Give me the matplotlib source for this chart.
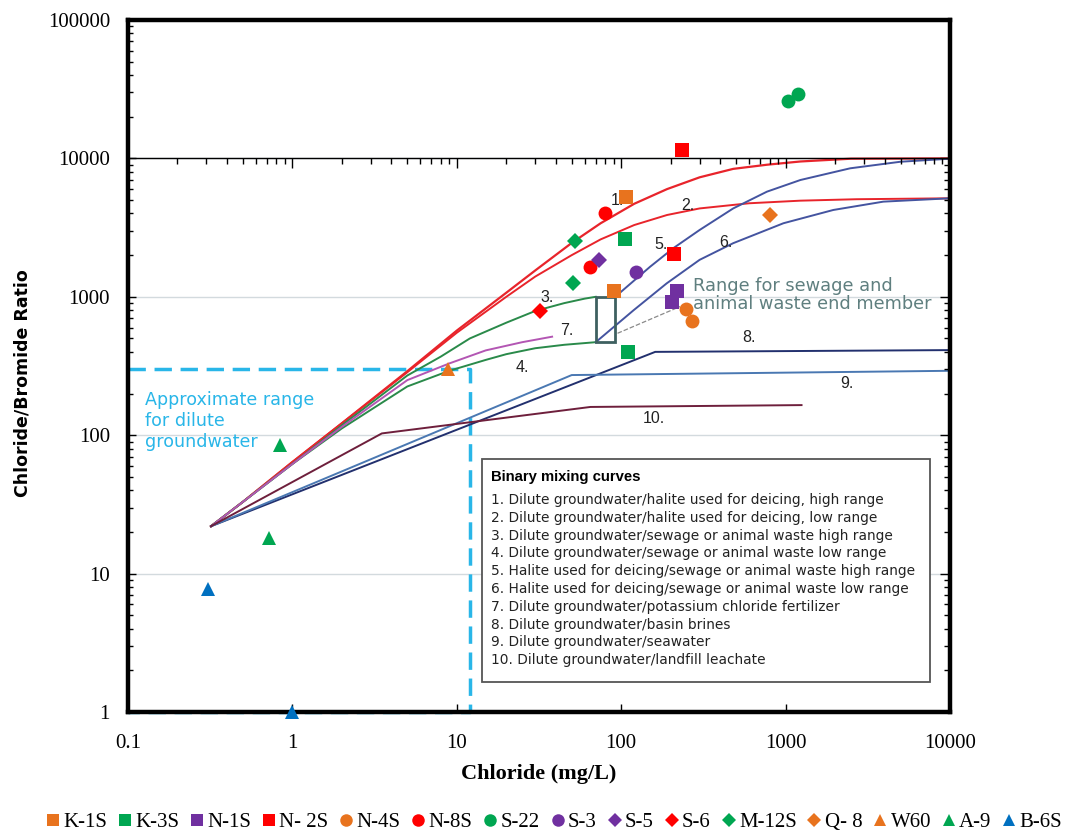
import matplotlib
matplotlib.use('Agg')
import matplotlib.pyplot as plt
import matplotlib.ticker as mticker
from matplotlib.patches import Rectangle
from matplotlib.lines import Line2D

# -----------------------------------------
# Binary mixing curves (chloride mg/L, Cl/Br ratio)
c1_x = [0.32, 0.5, 1, 2, 5, 10, 20, 30, 50, 75, 120, 190, 300, 480, 770, 1230, 2500, 10000]
c1_y = [22, 33, 64, 122, 290, 570, 1070, 1550, 2450, 3400, 4700, 6000, 7300, 8400, 9000, 9500, 9950, 10000]
c2_x = [0.32, 0.5, 1, 2, 5, 10, 20, 30, 50, 75, 120, 190, 300, 600, 1230, 2700, 10000]
c2_y = [22, 33, 64, 122, 285, 550, 1000, 1400, 2000, 2600, 3300, 3900, 4350, 4740, 4950, 5070, 5150]
c3_x = [0.32, 0.5, 1, 2, 5, 8, 12, 20, 30, 45, 60, 70]
c3_y = [22, 33, 62, 118, 270, 370, 500, 650, 790, 900, 970, 1000]
c4_x = [0.32, 0.5, 1, 2, 5, 9, 15, 20, 30, 45, 70]
c4_y = [22, 33, 62, 112, 225, 292, 350, 385, 425, 450, 470]
c5_x = [92, 150, 208, 300, 480, 770, 1230, 2470, 5000, 10000]
c5_y = [1000, 1650, 2250, 3040, 4350, 5750, 6980, 8480, 9460, 9950]
c6_x = [70, 119, 189, 300, 480, 970, 1950, 3930, 10000]
c6_y = [470, 800, 1250, 1850, 2440, 3400, 4240, 4870, 5150]
c7_x = [0.32, 0.5, 1, 2, 5, 9, 15, 25, 38]
c7_y = [22, 33, 62, 115, 250, 330, 410, 470, 515]
c8_x = [0.32, 161, 10000]
c8_y = [22, 400, 412]
c9_x = [0.32, 50, 10000]
c9_y = [22, 272, 292]
c10_x = [0.32, 3.5, 65, 1250]
c10_y = [22, 103, 160, 165]

# Sample wells
wells = ['K-1S', 'K-3S', 'N-1S', 'N- 2S', 'N-4S', 'N-8S', 'S-22', 'S-3',
         'S-5', 'S-6', 'M-12S', 'Q- 8', 'W60', 'A-9', 'B-6S']
well_cl = [[107, 90], [105, 110], [220, 205], [235, 210], [248, 270], [80, 65],
           [1040, 1190], [123], [73], [32], [52, 51], [800], [8.9], [0.84, 0.72], [0.305, 1.0]]
well_ratio = [[5300, 1100], [2600, 400], [1100, 920], [11500, 2050], [820, 670], [4000, 1630],
              [26000, 29000], [1520], [1830], [790], [2550, 1260], [3900], [300], [85, 18], [7.8, 1.0]]

orange = '#E8731E'
green = '#00A651'
purple = '#7030A0'
red = '#FF0000'
blue = '#0070C0'
well_color = [orange, green, purple, red, orange, red, green, purple,
              purple, red, green, orange, orange, green, blue]
well_marker = ['s', 's', 's', 's', 'o', 'o', 'o', 'o', 'D', 'D', 'D', 'D', '^', '^', '^']
well_size = {'s': 9.5, 'o': 10, 'D': 8, '^': 10}

legend_items = [
    "1. Dilute groundwater/halite used for deicing, high range",
    "2. Dilute groundwater/halite used for deicing, low range",
    "3. Dilute groundwater/sewage or animal waste high range",
    "4. Dilute groundwater/sewage or animal waste low range",
    "5. Halite used for deicing/sewage or animal waste high range",
    "6. Halite used for deicing/sewage or animal waste low range",
    "7. Dilute groundwater/potassium chloride fertilizer",
    "8. Dilute groundwater/basin brines",
    "9. Dilute groundwater/seawater",
    "10. Dilute groundwater/landfill leachate",
]

W, H = 1073, 832
fig = plt.figure(figsize=(W / 100, H / 100), dpi=100)
ax = fig.add_axes([128 / W, 1 - 712 / H, 822 / W, 692 / H])
ax.set_xscale('log')
ax.set_yscale('log')
ax.set_xlim(0.1, 10000)
ax.set_ylim(1, 100000)

# light horizontal grid
ax.grid(axis='y', which='major', color='#d3dade', lw=1)
ax.set_axisbelow(True)

# mixing curves
ax.plot(c1_x, c1_y, color='#E8242B', lw=1.6)
ax.plot(c2_x, c2_y, color='#E8242B', lw=1.4)
ax.plot(c3_x, c3_y, color='#2A8A4A', lw=1.4)
ax.plot(c4_x, c4_y, color='#2A8A4A', lw=1.4)
ax.plot(c5_x, c5_y, color='#4454A0', lw=1.4)
ax.plot(c6_x, c6_y, color='#4454A0', lw=1.4)
ax.plot(c7_x, c7_y, color='#B356B3', lw=1.4)
ax.plot(c8_x, c8_y, color='#22306E', lw=1.4)
ax.plot(c9_x, c9_y, color='#4A78B2', lw=1.4)
ax.plot(c10_x, c10_y, color='#6E1F3C', lw=1.4)

# sewage / animal waste end member box and leader
ax.add_patch(Rectangle((70, 470), 22, 530, fill=False, ec='#3E6060', lw=2, zorder=3))
ax.plot([95, 228], [545, 850], color='#8a8a8a', lw=0.9, ls='--')
ax.text(272, 1030, "Range for sewage and\nanimal waste end member", color='#5F7F7F',
        fontsize=12.8, va='center', ha='left', linespacing=1.0)

# dilute groundwater range
ax.plot([0.1, 12, 12, 0.1], [300, 300, 1, 1], color='#29B6E8', lw=2.5,
        dashes=(5, 2.5), clip_on=False, zorder=1.5)
ax.text(0.127, 126, "Approximate range\nfor dilute\ngroundwater", color='#29B6E8',
        fontsize=12.6, va='center', ha='left', linespacing=1.22)

# curve numbers
nums = ['1.', '2.', '3.', '4.', '5.', '6.', '7.', '8.', '9.', '10.']
num_x = [95, 255, 35.4, 24.9, 175, 434, 46.8, 598, 2360, 158]
num_y = [5000, 4600, 996, 311, 2370, 2450, 575, 504, 238, 133]
for t, x, y in zip(nums, num_x, num_y):
    ax.text(x, y, t, fontsize=11.5, color='#222222', ha='center', va='center',
            family='Liberation Sans')

# sample points
for i in range(len(wells)):
    m = well_marker[i]
    ax.plot(well_cl[i], well_ratio[i], ls='none', marker=m, ms=well_size[m],
            color=well_color[i], mew=0, clip_on=False, zorder=4)

# axes styling
for s in ax.spines.values():
    s.set_linewidth(3.2)
    s.set_color('black')
ax.xaxis.set_major_locator(mticker.FixedLocator([0.1, 1, 10, 100, 1000, 10000]))
ax.xaxis.set_major_formatter(mticker.FixedFormatter(['0.1', '1', '10', '100', '1000', '10000']))
ax.xaxis.set_minor_locator(mticker.NullLocator())
ax.yaxis.set_major_locator(mticker.FixedLocator([1, 10, 100, 1000, 10000, 100000]))
ax.yaxis.set_major_formatter(mticker.FixedFormatter(['1', '10', '100', '1000', '10000', '100000']))
ax.yaxis.set_minor_locator(mticker.LogLocator(subs=range(2, 10)))
ax.yaxis.set_minor_formatter(mticker.NullFormatter())
ax.tick_params(which='major', direction='in', length=6, width=1)
ax.tick_params(which='minor', direction='in', length=3.5, width=1)
ax.tick_params(axis='y', pad=13)
ax.tick_params(axis='x', pad=16)
for lbl in ax.get_xticklabels() + ax.get_yticklabels():
    lbl.set_family('Liberation Serif')
    lbl.set_fontsize(15)

ax.set_xlabel("Chloride (mg/L)", family='Liberation Serif', fontweight='bold', fontsize=16)
ax.xaxis.set_label_coords(0.5, -0.075)
ax.set_ylabel("Chloride/Bromide Ratio", family='DejaVu Sans', fontweight='bold', fontsize=12.5)
ax.yaxis.set_label_coords(-0.117, 0.475)

# frame of the original mixing-curve figure (1 to 10000)
ins = ax.inset_axes([0, 0, 1, 0.8])
ins.set_xscale('log')
ins.set_yscale('log')
ins.set_xlim(0.1, 10000)
ins.set_ylim(1, 10000)
ins.patch.set_alpha(0)
ins.spines['left'].set_visible(False)
ins.spines['bottom'].set_visible(False)
ins.spines['top'].set_linewidth(1)
ins.spines['right'].set_linewidth(1)
ins.tick_params(which='both', direction='in', top=True, right=True, bottom=False, left=False,
                labelbottom=False, labelleft=False)
ins.tick_params(which='major', length=7, width=1)
ins.tick_params(which='minor', length=4, width=1)

# binary mixing curves key
fig.patches.append(Rectangle((482 / W, 1 - 682 / H), 448 / W, 223 / H, transform=fig.transFigure,
                             fill=True, fc='white', ec='#555555', lw=1.3, zorder=3))
fig.text(491 / W, 1 - 477 / H, "Binary mixing curves", fontsize=10.7, fontweight='bold',
         family='Liberation Sans', va='center', zorder=4)
for i, t in enumerate(legend_items):
    fig.text(491 / W, 1 - (500 + 17.8 * i) / H, t, fontsize=9.9, family='DejaVu Sans',
             color='#222222', va='center', zorder=4)

# well legend at the bottom
handles = [Line2D([], [], ls='none', marker=well_marker[i], color=well_color[i], mew=0,
                  ms=well_size[well_marker[i]] * 0.9) for i in range(len(wells))]
fig.legend(handles, wells, loc='center', bbox_to_anchor=(554 / W, 1 - 822 / H), ncol=15,
           frameon=False, prop={'family': 'Liberation Serif', 'size': 15},
           handlelength=0.7, handletextpad=0.15, columnspacing=0.5, borderaxespad=0)

fig.savefig('out.png', dpi=100)
